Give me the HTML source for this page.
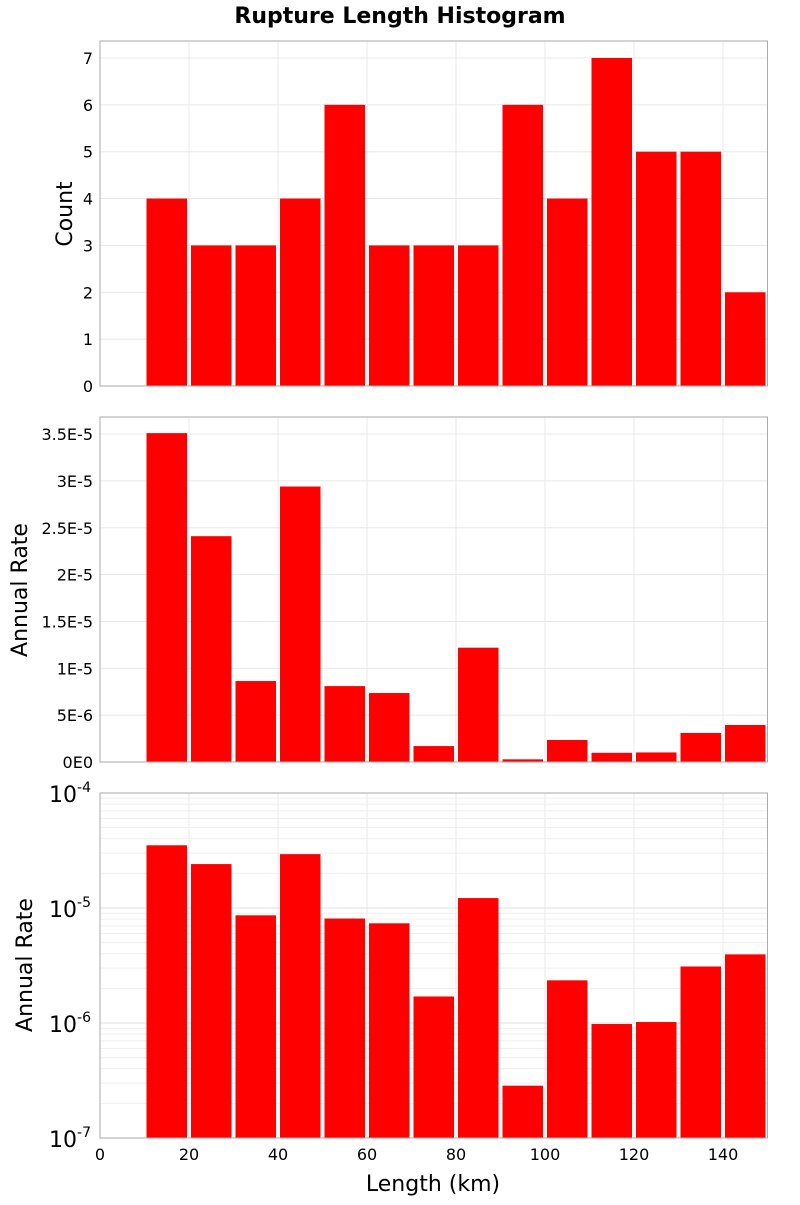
<!DOCTYPE html>
<html><head><meta charset="utf-8"><style>
body{margin:0;background:#fff;}
svg text{font-family:"DejaVu Sans","Liberation Sans",sans-serif;fill:#000;}
</style></head><body>
<svg id="c" width="800" height="1200"></svg>
<script>
const binStarts=[10,20,30,40,50,60,70,80,90,100,110,120,130,140];
const counts=[4,3,3,4,6,3,3,3,6,4,7,5,5,2];
const rates=[3.51e-5,2.41e-5,8.64e-6,2.94e-5,8.1e-6,7.36e-6,1.7e-6,1.22e-5,2.85e-7,2.35e-6,0.98e-6,1.02e-6,3.1e-6,3.95e-6];
const xTicks=[0,20,40,60,80,100,120,140];
const countTicks=[0,1,2,3,4,5,6,7];
const rateTicks=[0,5e-6,1e-5,1.5e-5,2e-5,2.5e-5,3e-5,3.5e-5];
const rateTickLabels=["0E0","5E-6","1E-5","1.5E-5","2E-5","2.5E-5","3E-5","3.5E-5"];
const logExps=[-7,-6,-5,-4];
const binWidth=10;
const NS="http://www.w3.org/2000/svg";
const svg=document.getElementById('c');
function el(t,a,p){const e=document.createElementNS(NS,t);for(const k in a)e.setAttribute(k,a[k]);(p||svg).appendChild(e);return e;}
const L=100,R=767.5;
const xs=v=>L+(v/150)*(R-L);
const panels=[{top:41,bot:386},{top:417,bot:762},{top:793,bot:1138}];
const y1=v=>386-(v/7.362)*(386-41);
const y2=v=>762-(v/3.682e-5)*(762-417);
const y3=v=>1138-(Math.log10(v)+7)/3*(1138-793);
const t=el('text',{x:400,y:23,'text-anchor':'middle','font-size':22,'font-weight':'bold'});
t.textContent='Rupture Length Histogram';
function grid(p,name){
  const g=el('g',{});
  xTicks.forEach(v=>el('line',{x1:xs(v),x2:xs(v),y1:p.top,y2:p.bot,stroke:'#e8e8e8'},g));
  return g;
}
function hline(g,y){el('line',{x1:L,x2:R,y1:y,y2:y,stroke:'#e8e8e8'},g);}
function frame(p,name){const r=el('rect',{x:L,y:p.top,width:R-L,height:p.bot-p.top,fill:'none',stroke:'#aaa'});}
function bars(vals,yf,base,name){
  const g=el('g',{});
  vals.forEach((v,i)=>{const x0=xs(binStarts[i])+2,x1=xs(binStarts[i]+binWidth)-2;const yt=yf(v);
    const b=el('rect',{x:x0,y:yt,width:x1-x0,height:base-yt,fill:'#ff0000'},g);
    });
}
function ytitle(txt,x,yc,name){const e=el('text',{x:x,y:yc,'text-anchor':'middle','font-size':22,transform:`rotate(-90 ${x} ${yc})`});e.textContent=txt;}
// panel 1
let p=panels[0],g=grid(p,'count-panel');countTicks.forEach(v=>hline(g,y1(v)));
bars(counts,y1,p.bot,'count');frame(p,'count-panel');
countTicks.forEach(v=>{const e=el('text',{x:93,y:y1(v)+6,'text-anchor':'end','font-size':16});e.textContent=v;});
ytitle('Count',72,214,'count-y-axis-title');
// panel 2
p=panels[1];g=grid(p,'rate-panel');rateTicks.forEach(v=>hline(g,y2(v)));
bars(rates,y2,p.bot,'rate');frame(p,'rate-panel');
rateTicks.forEach((v,i)=>{const e=el('text',{x:93,y:y2(v)+6,'text-anchor':'end','font-size':16});e.textContent=rateTickLabels[i];});
ytitle('Annual Rate',27,590,'rate-y-axis-title');
// panel 3
p=panels[2];g=grid(p,'log-rate-panel');
for(let e=-7;e<-4;e++){for(let m=1;m<10;m++){const y=y3(m*Math.pow(10,e));el('line',{x1:L,x2:R,y1:y,y2:y,stroke:m==1?'#e0e0e0':'#efefef'},g);}}
hline(g,y3(1e-4));
bars(rates,v=>Math.max(y3(v),p.top),p.bot,'log-rate');frame(p,'log-rate-panel');
logExps.forEach(ex=>{const e=el('text',{x:91,y:y3(Math.pow(10,ex))+9,'text-anchor':'end','font-size':22});
  const a=el('tspan',{},e);a.textContent='10';const b=el('tspan',{dy:-10,'font-size':14},e);b.textContent=String(ex);});
ytitle('Annual Rate',32,965,'log-rate-y-axis-title');
// x axis
xTicks.forEach(v=>{const e=el('text',{x:xs(v),y:1160,'text-anchor':'middle','font-size':16});e.textContent=v;});
const xt=el('text',{x:433,y:1191,'text-anchor':'middle','font-size':22});xt.textContent='Length (km)';
</script>
</body></html>
